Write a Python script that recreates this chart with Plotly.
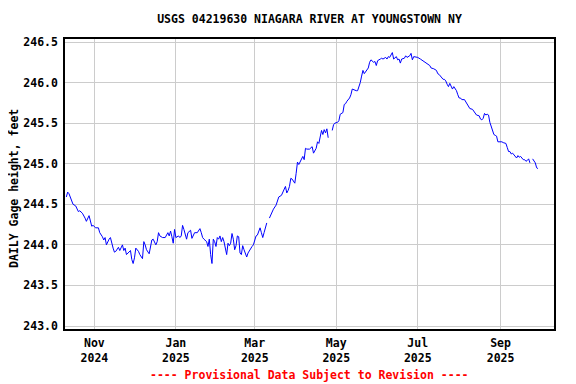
import plotly.graph_objects as go

title_text = "USGS 04219630 NIAGARA RIVER AT YOUNGSTOWN NY"
y_title = "DAILY Gage height, feet"
footer_text = "---- Provisional Data Subject to Revision ----"

dates = [
    "2024-10-11", "2024-10-12", "2024-10-13", "2024-10-15", "2024-10-16", "2024-10-18",
    "2024-10-20", "2024-10-21", "2024-10-23", "2024-10-25", "2024-10-26", "2024-10-28",
    "2024-10-29", "2024-10-30", "2024-10-31", "2024-11-02", "2024-11-04", "2024-11-05",
    "2024-11-07", "2024-11-08", "2024-11-09", "2024-11-10", "2024-11-12", "2024-11-13",
    "2024-11-15", "2024-11-16", "2024-11-17", "2024-11-18", "2024-11-19", "2024-11-20",
    "2024-11-22", "2024-11-23", "2024-11-24", "2024-11-25", "2024-11-27", "2024-11-28",
    "2024-11-29", "2024-11-30", "2024-12-01", "2024-12-02", "2024-12-04", "2024-12-05",
    "2024-12-07", "2024-12-08", "2024-12-09", "2024-12-10", "2024-12-12", "2024-12-13",
    "2024-12-14", "2024-12-15", "2024-12-17", "2024-12-18", "2024-12-19", "2024-12-20",
    "2024-12-22", "2024-12-24", "2024-12-26", "2024-12-27", "2024-12-28", "2024-12-29",
    "2024-12-30", "2024-12-31", "2025-01-01", "2025-01-03", "2025-01-04", "2025-01-05",
    "2025-01-06", "2025-01-07", "2025-01-08", "2025-01-09", "2025-01-10", "2025-01-11",
    "2025-01-12", "2025-01-13", "2025-01-15", "2025-01-17", "2025-01-19", "2025-01-20",
    "2025-01-21", "2025-01-22", "2025-01-24", "2025-01-25", "2025-01-26", "2025-01-27",
    "2025-01-28", "2025-01-29", "2025-01-30", "2025-01-31", "2025-02-01", "2025-02-02",
    "2025-02-03", "2025-02-04", "2025-02-05", "2025-02-06", "2025-02-07", "2025-02-08",
    "2025-02-09", "2025-02-10", "2025-02-11", "2025-02-12", "2025-02-13", "2025-02-14",
    "2025-02-15", "2025-02-16", "2025-02-17", "2025-02-18", "2025-02-19", "2025-02-20",
    "2025-02-21", "2025-02-22", "2025-02-23", "2025-02-24", "2025-02-25", "2025-02-26",
    "2025-02-27", "2025-02-28", "2025-03-01", "2025-03-02", "2025-03-03", "2025-03-04",
    "2025-03-05", "2025-03-06", "2025-03-07", "2025-03-08", "2025-03-09", "2025-03-10",
    "2025-03-11", "2025-03-12", "2025-03-13", "2025-03-15", "2025-03-17", "2025-03-18",
    "2025-03-19", "2025-03-21", "2025-03-22", "2025-03-23", "2025-03-24", "2025-03-25",
    "2025-03-26", "2025-03-27", "2025-03-28", "2025-03-29", "2025-03-31", "2025-04-01",
    "2025-04-02", "2025-04-03", "2025-04-05", "2025-04-06", "2025-04-07", "2025-04-08",
    "2025-04-09", "2025-04-11", "2025-04-13", "2025-04-14", "2025-04-16", "2025-04-17",
    "2025-04-18", "2025-04-19", "2025-04-20", "2025-04-21", "2025-04-22", "2025-04-23",
    "2025-04-24", "2025-04-25", "2025-04-26", "2025-04-28", "2025-04-29", "2025-04-30",
    "2025-05-02", "2025-05-03", "2025-05-04", "2025-05-06", "2025-05-07", "2025-05-08",
    "2025-05-09", "2025-05-11", "2025-05-12", "2025-05-13", "2025-05-14", "2025-05-16",
    "2025-05-17", "2025-05-18", "2025-05-19", "2025-05-20", "2025-05-21", "2025-05-22",
    "2025-05-24", "2025-05-25", "2025-05-26", "2025-05-27", "2025-05-29", "2025-05-30",
    "2025-05-31", "2025-06-01", "2025-06-03", "2025-06-04", "2025-06-05", "2025-06-07",
    "2025-06-08", "2025-06-09", "2025-06-10", "2025-06-11", "2025-06-12", "2025-06-13",
    "2025-06-15", "2025-06-16", "2025-06-17", "2025-06-18", "2025-06-19", "2025-06-21",
    "2025-06-22", "2025-06-23", "2025-06-25", "2025-06-26", "2025-06-27", "2025-06-28",
    "2025-06-30", "2025-07-01", "2025-07-03", "2025-07-05", "2025-07-06", "2025-07-08",
    "2025-07-10", "2025-07-11", "2025-07-13", "2025-07-15", "2025-07-16", "2025-07-17",
    "2025-07-19", "2025-07-20", "2025-07-21", "2025-07-22", "2025-07-23", "2025-07-24",
    "2025-07-25", "2025-07-26", "2025-07-27", "2025-07-28", "2025-07-29", "2025-07-30",
    "2025-07-31", "2025-08-01", "2025-08-02", "2025-08-03", "2025-08-05", "2025-08-06",
    "2025-08-07", "2025-08-08", "2025-08-09", "2025-08-11", "2025-08-12", "2025-08-13",
    "2025-08-14", "2025-08-16", "2025-08-17", "2025-08-18", "2025-08-19", "2025-08-20",
    "2025-08-21", "2025-08-22", "2025-08-23", "2025-08-24", "2025-08-25", "2025-08-26",
    "2025-08-27", "2025-08-28", "2025-08-29", "2025-08-30", "2025-08-31", "2025-09-01",
    "2025-09-02", "2025-09-03", "2025-09-05", "2025-09-06", "2025-09-07", "2025-09-08",
    "2025-09-09", "2025-09-10", "2025-09-11", "2025-09-12", "2025-09-13", "2025-09-14",
    "2025-09-15", "2025-09-16", "2025-09-17", "2025-09-18", "2025-09-19", "2025-09-20",
    "2025-09-21", "2025-09-22", "2025-09-23", "2025-09-24", "2025-09-25", "2025-09-26",
    "2025-09-27", "2025-09-28", "2025-09-29",
]

gage_height = [
    244.59, 244.65, 244.63, 244.55, 244.50, 244.48,
    244.41, 244.42, 244.39, 244.33, 244.29, 244.36,
    244.27, 244.23, 244.24, 244.21, 244.21, 244.15,
    244.10, 244.06, 244.09, 244.00, 244.07, 244.09,
    243.96, 243.91, 243.92, 243.94, 243.97, 243.93,
    244.00, 243.93, 243.96, 243.88, 243.92, 243.93,
    243.82, 243.77, 243.84, 243.96, 243.92, 243.88,
    243.83, 244.04, 244.00, 243.94, 243.89, 243.98,
    244.06, 244.07, 244.00, 244.04, 244.15, 244.11,
    244.09, 244.09, 244.15, 244.11, 244.17, 244.10,
    244.02, 244.19, 244.09, 244.11, 244.09, 244.11,
    244.24, 244.19, 244.11, 244.07, 244.15, 244.17,
    244.18, 244.08, 244.15, 244.15, 244.20, 244.15,
    244.09, 244.07, 244.04, 243.98, 244.07, 243.88,
    243.77, 244.07, 244.04, 243.98, 244.09, 244.07,
    244.11, 244.04, 244.09, 244.04, 243.94, 243.88,
    244.02, 243.99, 244.02, 244.14, 244.07, 243.94,
    243.99, 244.11, 244.10, 243.90, 243.88, 243.99,
    243.94, 243.89, 243.85, 243.90, 243.93, 243.96,
    243.98, 244.00, 244.07, 244.11, 244.12, 244.18,
    244.21, 244.15, 244.09, 244.15, 244.21, 244.27,
    None, 244.33, 244.37, 244.44, 244.49, 244.55,
    244.59, 244.61, 244.65, 244.70, 244.72, 244.64,
    244.67, 244.72, 244.82, 244.81, 244.76, 244.88,
    245.02, 244.99, 245.05, 245.09, 245.05, 245.19,
    245.18, 245.18, 245.21, 245.13, 245.19, 245.27,
    245.25, 245.36, 245.41, 245.36, 245.42, 245.38,
    245.43, 245.32, None, 245.41, 245.48, 245.50,
    245.51, 245.53, 245.61, 245.63, 245.73, 245.74,
    245.77, 245.81, 245.85, 245.92, 245.91, 245.90,
    245.90, 245.94, 246.00, 246.08, 246.15, 246.11,
    246.15, 246.18, 246.25, 246.28, 246.25, 246.26,
    246.21, 246.27, 246.29, 246.30, 246.29, 246.31,
    246.29, 246.32, 246.31, 246.34, 246.37, 246.29,
    246.32, 246.28, 246.29, 246.24, 246.29, 246.30,
    246.33, 246.31, 246.33, 246.36, 246.28, 246.32,
    246.31, 246.31, 246.29, 246.27, 246.25, 246.23,
    246.21, 246.18, 246.17, 246.15, 246.11, 246.10,
    246.06, 246.04, 246.04, 246.02, 245.98, 245.95,
    245.99, 245.96, 245.92, 245.95, 245.93, 245.90,
    245.85, 245.81, 245.81, 245.79, 245.79, 245.76,
    245.73, 245.71, 245.68, 245.67, 245.65, 245.62,
    245.60, 245.59, 245.55, 245.54, 245.56, 245.62,
    245.60, 245.61, 245.60, 245.51, 245.46, 245.42,
    245.36, 245.35, 245.34, 245.27, 245.27, 245.27,
    245.27, 245.26, 245.25, 245.20, 245.15, 245.15,
    245.12, 245.13, 245.11, 245.09, 245.07, 245.10,
    245.08, 245.09, 245.07, 245.05, 245.05, 245.03,
    245.04, 245.06, 245.01, None, 245.06, 245.03,
    245.01, 244.95, 244.94,
]

x_tick_dates = ["2024-11-01", "2025-01-01", "2025-03-01", "2025-05-01", "2025-07-01", "2025-09-01"]
x_tick_labels = ["Nov<br>2024", "Jan<br>2025", "Mar<br>2025", "May<br>2025", "Jul<br>2025", "Sep<br>2025"]
y_ticks = [243.0, 243.5, 244.0, 244.5, 245.0, 245.5, 246.0, 246.5]

FONT = "DejaVu Sans Mono"
fnt = dict(family=FONT, size=11.5, color="black", weight="bold")

# The page body has an 8px margin, so the figure is sized to fill the rest.
W, H = 568, 376
ML, MT = 57, 31
PLOT_R, PLOT_B = 546, 321
MR, MB = W - PLOT_R, H - PLOT_B
PLOT_H = PLOT_B - MT

fig = go.Figure()
fig.add_trace(go.Scatter(
    x=dates, y=gage_height, mode="lines",
    line=dict(color="#0000FF", width=1),
    connectgaps=False, showlegend=False,
))

fig.update_layout(
    width=W, height=H,
    margin=dict(l=ML, r=MR, t=MT, b=MB),
    paper_bgcolor="white", plot_bgcolor="white",
    title=dict(text=title_text, x=0.5, xref="paper", y=1 - 11 / H,
               yanchor="middle", xanchor="center", font=fnt),
    font=fnt,
)

fig.update_xaxes(
    type="date",
    range=["2024-10-10", "2025-10-11"],
    tickmode="array", tickvals=x_tick_dates, ticktext=x_tick_labels,
    showgrid=True, gridcolor="#cccccc", gridwidth=1,
    showline=True, linecolor="black", linewidth=1.5, mirror=True,
    ticks="", tickfont=fnt, zeroline=False, ticklabelstandoff=2,
)
fig.update_yaxes(
    range=[242.963, 246.537],
    tickmode="array", tickvals=y_ticks,
    ticktext=[f"{v:.1f}" for v in y_ticks],
    showgrid=True, gridcolor="#cccccc", gridwidth=1,
    showline=True, linecolor="black", linewidth=1.5, mirror=True,
    ticks="", tickfont=fnt, zeroline=False, ticklabelstandoff=3,
)

fig.add_annotation(
    text=y_title, textangle=-90, xref="paper", yref="paper",
    x=(6 - ML) / (PLOT_R - ML), y=(PLOT_B - 181) / PLOT_H,
    xanchor="center", yanchor="middle",
    showarrow=False, font=fnt,
)
fig.add_annotation(
    text=footer_text, xref="paper", yref="paper",
    x=0.5, y=(PLOT_B - 367) / PLOT_H, xanchor="center", yanchor="middle",
    showarrow=False, font=dict(family=FONT, size=11.5, color="red", weight="bold"),
)

fig.write_html("out.html")
